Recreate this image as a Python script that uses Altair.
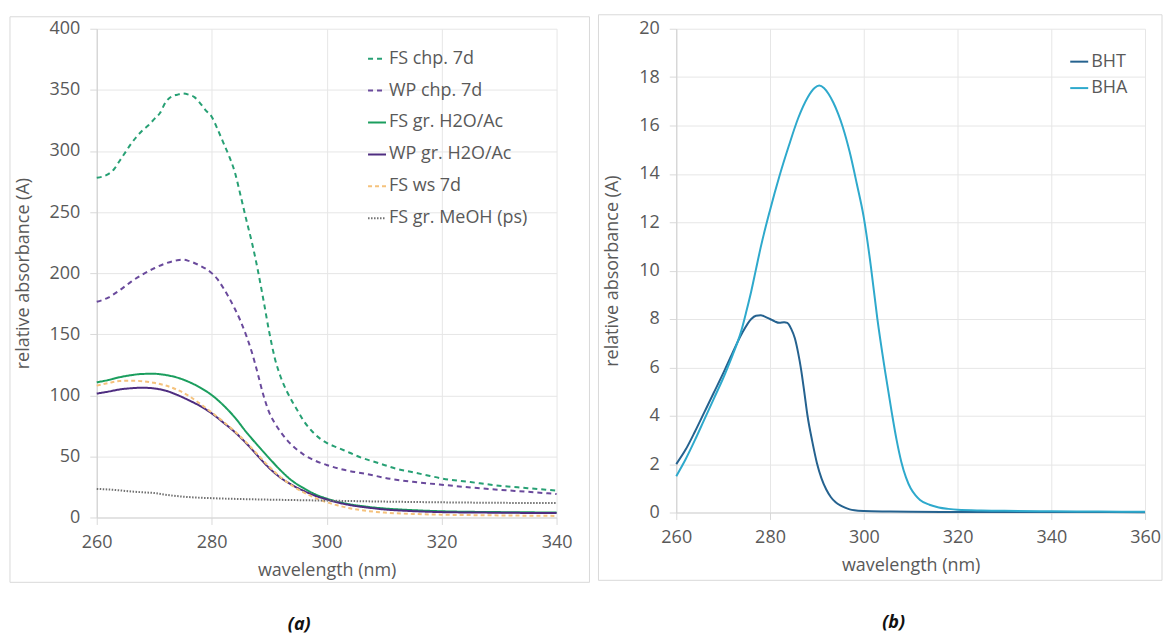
import altair as alt
import pandas as pd

FONT = "Open Sans"
TEXT_GREY = "#595959"

# ---------- panel (a): extracts ----------
names_a = ["FS chp. 7d", "WP chp. 7d", "FS gr. H2O/Ac", "WP gr. H2O/Ac", "FS ws 7d", "FS gr. MeOH (ps)"]
colors_a = ["#27a074", "#6a4a9c", "#1b9e5e", "#4e2d80", "#f5c27c", "#707070"]
dashes_a = [[5, 4], [5, 4], [1, 0], [1, 0], [4, 3], [1.5, 1.5]]
widths_a = [2, 2, 2, 2, 1.6, 1.3]

wl_fs_chp = [260, 262, 263, 264, 265, 266, 267, 268, 269, 270, 271, 272, 273, 274, 275, 276, 277, 278, 279,
             280, 281, 282, 283, 284, 285, 286, 287, 288, 289, 290, 291, 292, 293, 294, 295, 296, 297, 298,
             299, 300, 302, 304, 306, 308, 310, 312, 315, 318, 320, 325, 330, 335, 340]
ab_fs_chp = [278, 281, 285, 292, 299, 306, 312, 317, 321, 326, 331, 340, 344.5, 346, 347, 346, 344, 339, 333,
             328, 318, 307, 296, 283, 264, 244, 225, 203, 178, 152, 130, 115, 104, 95, 87, 79, 73, 68,
             64, 61, 57, 53, 49, 46, 43, 40, 37, 34, 32, 29, 26, 24, 22]

wl_wp_chp = [260, 262, 264, 266, 268, 270, 272, 274, 275, 276, 278, 280, 281, 282, 283, 284, 285, 286, 287,
             288, 289, 290, 291, 292, 293, 294, 295, 296, 298, 300, 303, 307, 311, 315, 320, 325, 330, 335, 340]
ab_wp_chp = [176.5, 180, 186, 193, 199, 204, 208, 210.5, 211, 210, 206, 200, 195, 188, 180, 171, 161, 149, 135,
             118, 100, 86, 77, 70, 64, 59, 55, 51.5, 46.5, 43, 39, 35.5, 31.7, 29.2, 26.8, 24.6, 22.7, 21, 19.2]

wl_fs_gr = [260, 262, 264, 266, 268, 270, 272, 274, 276, 278, 280, 282, 284, 286, 288, 290, 292, 294, 296,
            298, 300, 302, 304, 307, 310, 315, 320, 330, 340]
ab_fs_gr = [110.6, 112.5, 114.8, 116.5, 117.5, 117.6, 116.6, 114.5, 111, 106.3, 100.2, 92, 82, 70, 59, 48.5,
            38.5, 30, 24, 19, 15.5, 12.8, 10.8, 8.8, 7.4, 6.0, 5.1, 4.4, 4.1]

wl_wp_gr = [260, 262, 264, 266, 268, 270, 272, 274, 276, 278, 280, 282, 284, 286, 288, 290, 292, 294, 296,
            298, 300, 302, 304, 307, 310, 315, 320, 330, 340]
ab_wp_gr = [101.4, 103, 104.8, 105.8, 106.2, 105.6, 103.8, 100.3, 96, 91.2, 85.2, 77.8, 70, 60.8, 50.5, 40.5,
            32.5, 26.5, 21.8, 17.8, 14.8, 12.2, 10.2, 8.2, 6.6, 5.2, 4.4, 3.9, 3.6]

wl_fs_ws = [260, 262, 264, 266, 268, 270, 272, 274, 276, 278, 280, 282, 284, 286, 288, 290, 292, 294, 296,
            298, 300, 302, 304, 307, 310, 315, 320, 330, 340]
ab_fs_ws = [107.9, 110, 111.7, 112, 111.5, 110.2, 108, 104.5, 99.5, 93, 86, 78.5, 70.5, 61.5, 51.5, 41.5,
            33, 26, 20.5, 16, 12.5, 9.8, 7.6, 5.4, 4.0, 2.9, 2.3, 1.7, 1.3]

wl_fs_meoh = [260, 263, 266, 268, 270, 272, 274, 276, 280, 285, 290, 295, 300, 310, 320, 330, 340]
ab_fs_meoh = [23.4, 22.6, 21.3, 20.6, 20, 18.6, 17.5, 16.7, 15.8, 15.1, 14.6, 14.2, 13.8, 13, 12.4, 12, 11.8]

# ---------- panel (b): reference antioxidants ----------
names_b = ["BHT", "BHA"]
colors_b = ["#25628f", "#2ea9cc"]

wl_bht = [260, 262, 264, 266, 268, 270, 272, 274, 276, 277, 278, 279, 280, 281, 282, 283, 283.7, 284.5, 285.3,
          286, 286.6, 287.3, 288, 289, 290, 291, 292, 293, 294, 295, 296, 297, 298, 300, 305, 310, 320, 340, 360]
ab_bht = [2.0, 2.6, 3.35, 4.15, 4.95, 5.75, 6.6, 7.4, 8.0, 8.13, 8.15, 8.09, 8.0, 7.9, 7.84, 7.87, 7.84, 7.6, 7.2,
          6.6, 5.95, 5.0, 4.0, 2.95, 2.05, 1.4, 0.95, 0.63, 0.42, 0.29, 0.2, 0.13, 0.09, 0.06, 0.04, 0.03, 0.02,
          0.02, 0.01]

wl_bha = [260, 262, 264, 266, 268, 270, 272, 273, 274, 275, 276, 277, 278, 280, 282, 284, 286, 288, 289.5,
          290.5, 291.5, 292.5, 293.5, 294.5, 295.5, 297, 298.5, 300, 301.5, 302.9, 304.5, 306, 307, 308, 309,
          310, 311, 312, 314, 316, 318, 320, 325, 330, 340, 350, 360]
ab_bha = [1.5, 2.2, 3.0, 3.85, 4.7, 5.55, 6.5, 7.0, 7.6, 8.35, 9.15, 10.05, 10.95, 12.5, 13.9, 15.15, 16.3,
          17.15, 17.55, 17.65, 17.55, 17.3, 16.95, 16.5, 15.95, 14.9, 13.6, 12.2, 10.2, 8.0, 5.9, 4.1, 3.0,
          2.1, 1.45, 1.0, 0.72, 0.52, 0.32, 0.21, 0.15, 0.11, 0.08, 0.07, 0.05, 0.04, 0.03]


def to_long(pairs):
    rows = []
    for name, xs, ys in pairs:
        for x, y in zip(xs, ys):
            rows.append({"series": name, "wavelength": x, "absorbance": y})
    return pd.DataFrame(rows)


df_a = to_long([
    ("FS chp. 7d", wl_fs_chp, ab_fs_chp),
    ("WP chp. 7d", wl_wp_chp, ab_wp_chp),
    ("FS gr. H2O/Ac", wl_fs_gr, ab_fs_gr),
    ("WP gr. H2O/Ac", wl_wp_gr, ab_wp_gr),
    ("FS ws 7d", wl_fs_ws, ab_fs_ws),
    ("FS gr. MeOH (ps)", wl_fs_meoh, ab_fs_meoh),
])
df_b = to_long([("BHT", wl_bht, ab_bht), ("BHA", wl_bha, ab_bha)])

one_row = pd.DataFrame({"k": [0]})


def x_axis(values):
    return alt.Axis(values=values, title="wavelength (nm)", titlePadding=10, labelPadding=9,
                    labelFlush=False)


def y_axis(values):
    return alt.Axis(values=values, title="relative absorbance (A)", titlePadding=17, labelPadding=10,
                    labelFlush=False)


def legend(x, y, row_pad):
    return alt.Legend(title=None, orient="none", legendX=x, legendY=y, symbolType="stroke",
                      symbolSize=324, symbolStrokeWidth=2, labelFontSize=18, labelFont=FONT,
                      labelColor=TEXT_GREY, rowPadding=row_pad, labelOffset=2, padding=0)


def frame(w, h):
    return alt.Chart(one_row).mark_rect(fill=None, stroke="#d9d9d9", strokeWidth=1).encode(
        x=alt.value(w[0]), x2=alt.value(w[1]), y=alt.value(h[0]), y2=alt.value(h[1]))


def tag(label, x, y):
    return alt.Chart(one_row).mark_text(font=FONT, fontSize=18, fontWeight="bold", fontStyle="italic",
                                        color="#111111").encode(
        x=alt.value(x), y=alt.value(y), text=alt.value(label))


# panel (a)
W_A, H_A = 461, 490
leg_a = legend(271, 20, 13)
lines_a = alt.Chart(df_a).mark_line(interpolate="monotone").encode(
    x=alt.X("wavelength:Q", scale=alt.Scale(domain=[260, 340], nice=False),
            axis=x_axis([260, 280, 300, 320, 340])),
    y=alt.Y("absorbance:Q", scale=alt.Scale(domain=[0, 400], nice=False),
            axis=y_axis(list(range(0, 401, 50)))),
    color=alt.Color("series:N", scale=alt.Scale(domain=names_a, range=colors_a), legend=leg_a),
    strokeDash=alt.StrokeDash("series:N", scale=alt.Scale(domain=names_a, range=dashes_a), legend=leg_a),
    strokeWidth=alt.StrokeWidth("series:N", scale=alt.Scale(domain=names_a, range=widths_a), legend=None),
)
panel_a = alt.layer(
    frame((-87, W_A + 33), (-12, H_A + 65)),
    lines_a,
    tag("(a)", 203, 598),
).properties(width=W_A, height=H_A)

# panel (b)
W_B, H_B = 470, 485
leg_b = legend(394, 23, 7.5)
lines_b = alt.Chart(df_b).mark_line(interpolate="monotone", strokeWidth=2).encode(
    x=alt.X("wavelength:Q", scale=alt.Scale(domain=[260, 360], nice=False),
            axis=x_axis([260, 280, 300, 320, 340, 360])),
    y=alt.Y("absorbance:Q", scale=alt.Scale(domain=[0, 20], nice=False),
            axis=y_axis(list(range(0, 21, 2)))),
    color=alt.Color("series:N", scale=alt.Scale(domain=names_b, range=colors_b), legend=leg_b),
)
panel_b = alt.layer(
    frame((-78, W_B + 17), (-14, H_B + 68)),
    lines_b,
    tag("(b)", 218, 596),
).properties(width=W_B, height=H_B)

chart = alt.hconcat(panel_a, panel_b, spacing=7).resolve_scale(
    color="independent", strokeDash="independent", strokeWidth="independent",
).resolve_legend(
    color="independent", strokeDash="independent",
).properties(
    padding={"left": 9, "top": 13, "right": 0, "bottom": 0},
    background="white",
).configure_view(stroke=None).configure_axis(
    labelFont=FONT, titleFont=FONT, labelFontSize=18, titleFontSize=18,
    labelColor=TEXT_GREY, titleColor=TEXT_GREY, titleFontWeight="normal",
    gridColor="#e6e6e6", gridWidth=1, domainColor="#d4d4d4", domainWidth=1.2,
    tickColor="#d9d9d9", tickSize=7,
)

chart.save("out.html", embed_options={"renderer": "svg", "actions": False})
